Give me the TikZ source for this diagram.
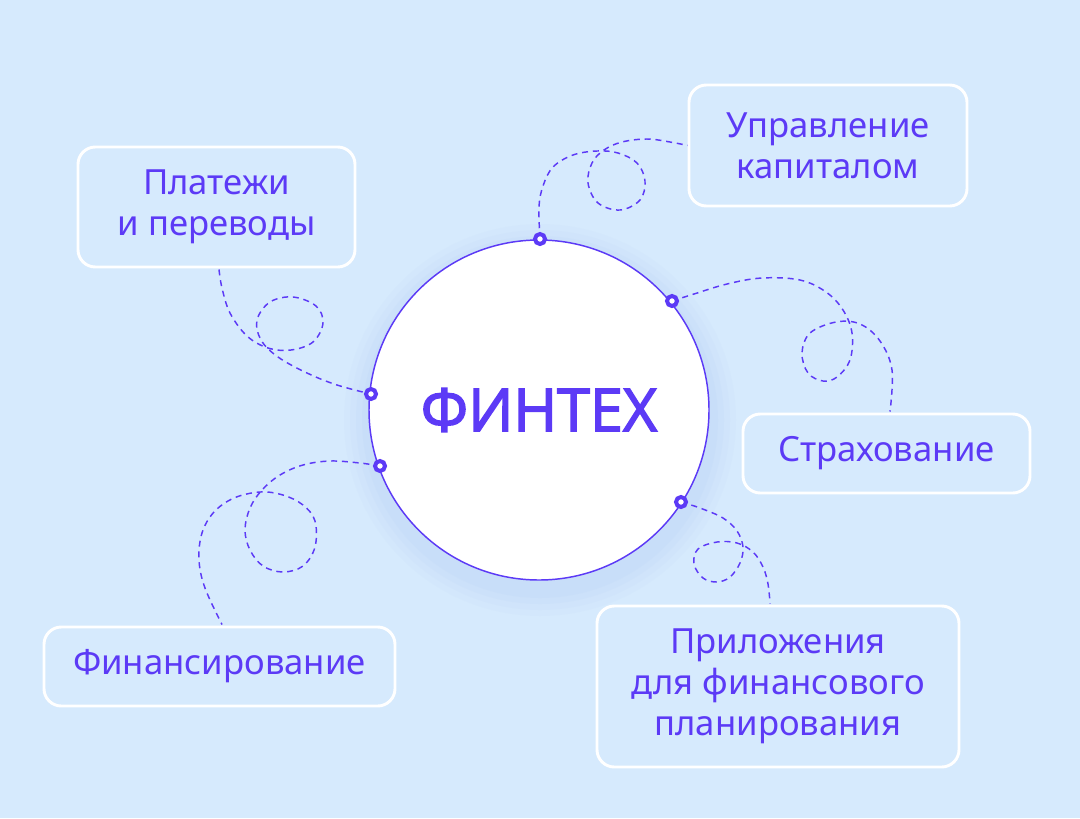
\documentclass[tikz,border=0pt]{standalone}
\usepackage{fontspec}
\setmainfont{Noto Sans}[AutoFakeBold=1.2]
\newfontfamily\heavy{Open Sans}[AutoFakeBold=2.5]
\usetikzlibrary{calc}
\definecolor{bgc}{RGB}{214,234,253}
\definecolor{vio}{RGB}{92,58,246}
\definecolor{shd}{RGB}{190,214,246}
\tikzset{
  box/.style={draw=white, line width=2.2pt, rounded corners=13pt, fill=bgc,
    align=center, text=vio, font=\fontsize{26}{30.75}\selectfont, inner sep=0pt},
  ring/.style={circle, draw=vio, fill=white, line width=3pt, minimum size=7.5pt, inner sep=0pt},
  conn/.style={draw=vio, line width=1.1pt, dash pattern=on 4.5pt off 3.6pt},
}
\begin{document}
\begin{tikzpicture}[x=0.75pt,y=-0.75pt]
\useasboundingbox (0,0) rectangle (1080,818);
\fill[bgc] (0,0) rectangle (1080,818);
% soft shadow of the central circle
\foreach \r/\o in {196/0.10,190/0.14,184/0.18,178/0.22}{
  \fill[shd, opacity=\o] (540,420) circle[radius=\r];
}
\node[circle, minimum size=255pt, fill=white, draw=vio, line width=1.1pt, inner sep=0pt,
  text=vio, font=\heavy\bfseries\fontsize{44.5}{50}\selectfont] (core) at (539,410) {ФИНТЕХ};

\node[box, minimum width=208.5pt, minimum height=90.75pt] (upr) at (828,145.5) {Управление\\капиталом};
\node[box, minimum width=207.75pt, minimum height=90pt] (plat) at (216.5,207) {Платежи\\и переводы};
\node[box, minimum width=215.25pt, minimum height=59.25pt] (strah) at (886.5,453.5) {Страхование};
\node[box, minimum width=263.25pt, minimum height=59.25pt] (finan) at (219.5,666.5) {Финансирование};
\node[box, minimum width=271.5pt, minimum height=120.75pt] (pril) at (778,686.5) {Приложения\\для финансового\\планирования};

\coordinate (d1) at (540,239);
\coordinate (d2) at (672,301);
\coordinate (d3) at (371,394);
\coordinate (d4) at (380,466);
\coordinate (d5) at (681,502);

% Управление капиталом
\draw[conn] plot[smooth, tension=0.6] coordinates {(d1) (539,207) (543,186) (553,167) (573,155) (597,151)
  (618,153) (637,163) (645,181) (640,200) (620,210) (598,203) (588,183) (592,163) (604,150) (622,142)
  (647,139) (670,142) (upr.west)};
% Платежи и переводы
\draw[conn] plot[smooth, tension=0.6] coordinates {($(plat.south)+(2.5,1)$) (222,288) (230,313) (247,336) (268,348)
  (291,350) (313,342) (323,323) (316,306) (293,297) (270,302) (257,320) (261,340) (278,357)
  (307,373) (337,385) (d3)};
% Страхование
\draw[conn] plot[smooth, tension=0.6] coordinates {(d2) (694,294) (727,284) (762,278) (800,280) (826,292)
  (843,310) (852,333) (850,360) (837,377) (823,381) (808,373) (802,353) (810,333) (836,322)
  (860,324) (880,341) (892,370) ($(strah.north)+(3.5,-1)$)};
% Финансирование
\draw[conn] plot[smooth, tension=0.6] coordinates {(d4) (360,463) (330,461) (303,465) (280,475) (262,490)
  (250,508) (245,530) (250,550) (263,566) (283,572) (303,566) (315,547) (315,521) (303,505)
  (283,495) (260,492) (234,498) (214,512) (202,533) (199,560) (205,588) ($(finan.north)+(2.5,-1)$)};
% Приложения
\draw[conn] plot[smooth, tension=0.6] coordinates {(d5) (700,508) (723,518) (737,531) (743,547) (740,563)
  (730,577) (717,582) (703,578) (694,564) (698,549) (717,542) (737,543) (753,552) (763,567)
  (768,584) ($(pril.north)+(-8,-1)$)};

\node[ring] (r1) at (d1) {};
\node[ring] (r2) at (d2) {};
\node[ring] (r3) at (d3) {};
\node[ring] (r4) at (d4) {};
\node[ring] (r5) at (d5) {};
\end{tikzpicture}
\end{document}
